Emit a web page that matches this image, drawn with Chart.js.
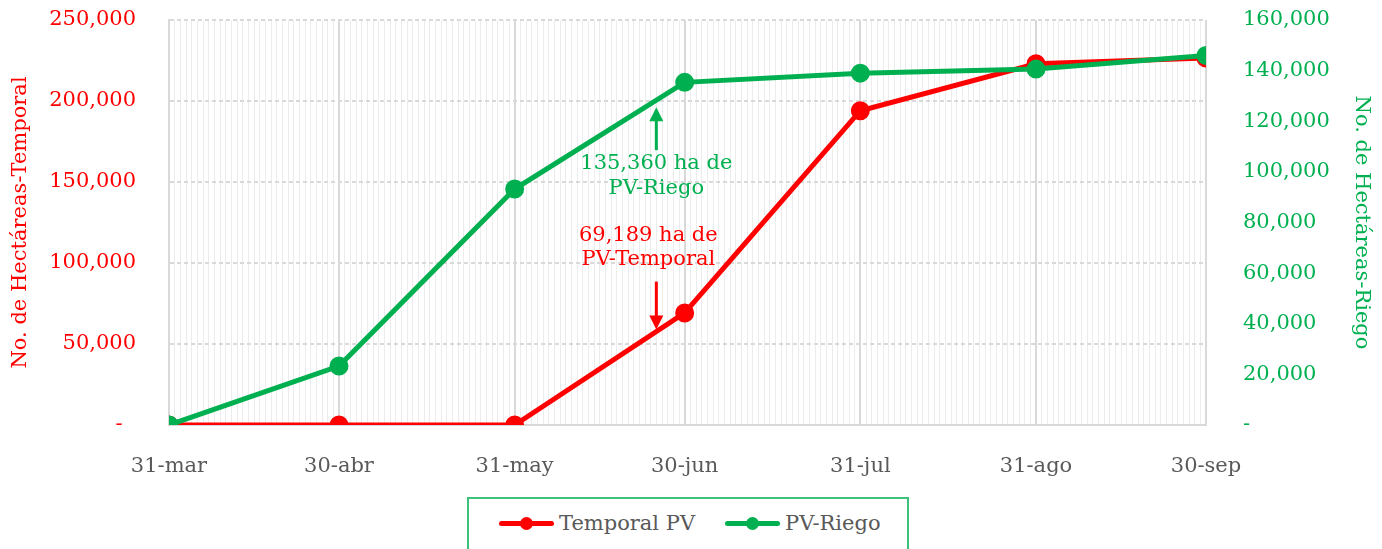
<!DOCTYPE html>
<html>
<head>
<meta charset="utf-8">
<script src="https://cdn.jsdelivr.net/npm/chart.js@4.4.1/dist/chart.umd.min.js"></script>
<style>
  body { margin: 0; background: #fff; font-family: 'DejaVu Serif', serif; }
  #wrap { position: relative; width: 1382px; height: 549px; overflow: hidden; }
  #box { position: absolute; left: 0; top: 0; width: 1382px; height: 495px; }
  #legend {
    position: absolute; left: 467px; top: 497px; width: 442px; height: 70px;
    border: 2px solid #3cc27a; box-sizing: border-box;
    display: flex; align-items: flex-start; padding: 12px 0 0 30px; gap: 30px;
    color: #595959; font-size: 21px;
  }
  .item { display: flex; align-items: center; gap: 5px; line-height: 24px; }
  .sym { position: relative; width: 55px; height: 5px; border-radius: 3px; }
  .sym i { position: absolute; left: 21px; top: -4px; width: 13px; height: 13px; border-radius: 50%; }
</style>
</head>
<body>
<div id="wrap">
  <div id="box"><canvas id="chart"></canvas></div>
  <div id="legend"></div>
</div>
<script>
// dates as day offsets from 31-mar
const xLabels = ['31-mar', '30-abr', '31-may', '30-jun', '31-jul', '31-ago', '30-sep']
const xDays = [0, 30, 61, 91, 122, 153, 183]
const temporalPV = [0, 0, 0, 69189, 194000, 223000, 226500]
const riegoPV = [0, 23300, 93200, 135360, 139000, 140600, 146000]
const seriesNames = ['Temporal PV', 'PV-Riego']
const seriesColors = ['#ff0000', '#00b050']
const notes = [
  { series: 0, day: 86, lines: ['69,189 ha de', 'PV-Temporal'], dir: 'down' },
  { series: 1, day: 86, lines: ['135,360 ha de', 'PV-Riego'], dir: 'up' }
]

const FONT = { family: "'DejaVu Serif', serif", size: 21 }
const fmtLeft = v => (v === 0 ? '-\u00a0\u00a0' : v.toLocaleString('en-US'))
const fmtRight = v => (v === 0 ? '-' : v.toLocaleString('en-US'))

function valueAt (values, day) {
  for (let i = 1; i < xDays.length; i++) {
    if (day <= xDays[i]) {
      const t = (day - xDays[i - 1]) / (xDays[i] - xDays[i - 1])
      return values[i - 1] + t * (values[i] - values[i - 1])
    }
  }
  return values[values.length - 1]
}

// fixed axis widths, no extra label overflow padding
const fixWidth = w => s => { s.width = w; s.paddingTop = 0; s.paddingBottom = 0 }

const notePlugin = {
  id: 'notes',
  afterDatasetsDraw (chart) {
    const ctx = chart.ctx
    const x = chart.scales.x
    for (const n of notes) {
      const ds = chart.data.datasets[n.series]
      const ys = chart.scales[ds.yAxisID]
      const color = seriesColors[n.series]
      const ax = x.getPixelForValue(n.day)
      const lineY = ys.getPixelForValue(valueAt(ds.data.map(p => p.y), n.day))
      ctx.save()
      ctx.strokeStyle = color
      ctx.fillStyle = color
      ctx.lineWidth = 3
      ctx.font = "21px 'DejaVu Serif', serif"
      ctx.textAlign = 'center'
      ctx.textBaseline = 'middle'
      if (n.dir === 'down') {
        const tip = lineY - 2
        ctx.beginPath(); ctx.moveTo(ax, tip - 48); ctx.lineTo(ax, tip - 12); ctx.stroke()
        ctx.beginPath(); ctx.moveTo(ax, tip); ctx.lineTo(ax - 7, tip - 14); ctx.lineTo(ax + 7, tip - 14); ctx.closePath(); ctx.fill()
        ctx.fillText(n.lines[0], ax - 8, tip - 94)
        ctx.fillText(n.lines[1], ax - 8, tip - 70)
      } else {
        const tip = lineY + 7
        ctx.beginPath(); ctx.moveTo(ax, tip + 43); ctx.lineTo(ax, tip + 12); ctx.stroke()
        ctx.beginPath(); ctx.moveTo(ax, tip); ctx.lineTo(ax - 7, tip + 14); ctx.lineTo(ax + 7, tip + 14); ctx.closePath(); ctx.fill()
        ctx.fillText(n.lines[0], ax, tip + 56)
        ctx.fillText(n.lines[1], ax, tip + 81)
      }
      ctx.restore()
    }
  }
}

const chart = new Chart(document.getElementById('chart'), {
  type: 'line',
  data: {
    datasets: [
      {
        label: seriesNames[0],
        data: xDays.map((d, i) => ({ x: d, y: temporalPV[i] })),
        yAxisID: 'y',
        borderColor: seriesColors[0],
        backgroundColor: seriesColors[0],
        borderWidth: 5,
        pointRadius: 7,
        pointHoverRadius: 7,
        order: 2
      },
      {
        label: seriesNames[1],
        data: xDays.map((d, i) => ({ x: d, y: riegoPV[i] })),
        yAxisID: 'y2',
        borderColor: seriesColors[1],
        backgroundColor: seriesColors[1],
        borderWidth: 5,
        pointRadius: 7,
        pointHoverRadius: 7,
        order: 1
      }
    ]
  },
  options: {
    responsive: true,
    maintainAspectRatio: false,
    animation: false,
    layout: { autoPadding: false, padding: { top: 20, bottom: 0, left: 0, right: 0 } },
    plugins: { legend: { display: false }, tooltip: { enabled: false } },
    scales: {
      xMinor: {
        type: 'linear',
        position: 'bottom',
        min: 0,
        max: 183,
        afterBuildTicks: s => { s.ticks = Array.from({ length: 184 }, (_, i) => ({ value: i })) },
        afterFit: s => { s.height = 0 },
        ticks: { display: false },
        border: { display: false },
        grid: { color: '#ececec', lineWidth: 1, drawTicks: false }
      },
      x: {
        type: 'linear',
        position: 'bottom',
        min: 0,
        max: 183,
        afterBuildTicks: s => { s.ticks = xDays.map(v => ({ value: v })) },
        afterFit: s => { s.height = 70 },
        ticks: {
          autoSkip: false,
          maxRotation: 0,
          padding: 29,
          color: '#595959',
          font: FONT,
          callback: (v) => xLabels[xDays.indexOf(v)]
        },
        border: { display: true, color: '#d9d9d9', width: 2 },
        grid: { color: '#d9d9d9', lineWidth: 2, drawTicks: false }
      },
      y: {
        position: 'left',
        min: 0,
        max: 250000,
        afterFit: fixWidth(169),
        ticks: { stepSize: 50000, padding: 33, color: '#ff0000', font: FONT, callback: fmtLeft },
        title: { display: true, text: 'No. de Hectáreas-Temporal', color: '#ff0000', font: FONT, padding: { top: 8, bottom: 0 } },
        border: { display: true, color: '#d9d9d9', width: 2, dash: [4, 3] },
        grid: { color: '#d9d9d9', lineWidth: 2, drawTicks: false }
      },
      y2: {
        position: 'right',
        min: 0,
        max: 160000,
        afterFit: fixWidth(176),
        ticks: { stepSize: 20000, padding: 37, color: '#00b050', font: FONT, callback: fmtRight },
        title: { display: true, text: 'No. de Hectáreas-Riego', color: '#00b050', font: FONT, padding: { top: 8, bottom: 0 } },
        border: { display: false },
        grid: { display: false, drawTicks: false }
      }
    }
  },
  plugins: [notePlugin]
})

const legend = document.getElementById('legend')
chart.data.datasets.forEach(ds => {
  const item = document.createElement('div')
  item.className = 'item'
  item.innerHTML = `<span class="sym" style="background:${ds.borderColor}"><i style="background:${ds.borderColor}"></i></span><span>${ds.label}</span>`
  legend.appendChild(item)
})
</script>
</body>
</html>
